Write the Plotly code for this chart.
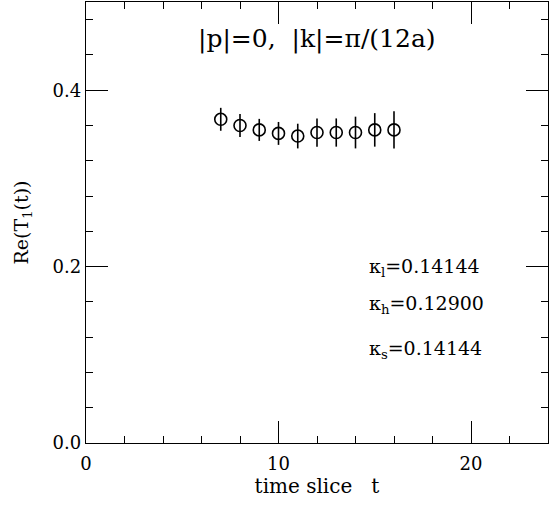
import plotly.graph_objects as go

t_slice = [7, 8, 9, 10, 11, 12, 13, 14, 15, 16]
re_T1 = [0.367, 0.360, 0.355, 0.351, 0.348, 0.352, 0.352, 0.352, 0.355, 0.355]
err = [0.013, 0.013, 0.0125, 0.013, 0.014, 0.016, 0.016, 0.018, 0.019, 0.021]

x_ticks = [0, 10, 20]
y_ticks = [0.0, 0.2, 0.4]
y_tick_labels = ["0.0", "0.2", "0.4"]

title_text = "|p|=0,\u00a0\u00a0|k|=π/(12a)"
kappa_texts = ["κ<sub>l</sub>=0.14144", "κ<sub>h</sub>=0.12900", "κ<sub>s</sub>=0.14144"]
kappa_y = [0.199, 0.157, 0.106]

FONT = "DejaVu Serif"

fig = go.Figure()
fig.add_trace(go.Scatter(
    x=t_slice, y=re_T1, mode="markers",
    marker=dict(symbol="circle-open", size=12, color="black", line=dict(width=1.6, color="black")),
    error_y=dict(type="data", array=err, visible=True, width=0, thickness=1.6, color="black"),
    showlegend=False,
))

fig.add_annotation(x=12.0, y=0.458, text=title_text, showarrow=False, xref="x", yref="y",
                   font=dict(family=FONT, size=25, color="black"))
for txt, yy in zip(kappa_texts, kappa_y):
    fig.add_annotation(x=14.6, y=yy, text=txt, showarrow=False, xanchor="left", xref="x", yref="y",
                       font=dict(family=FONT, size=19, color="black"))

fig.update_xaxes(range=[0, 24], tickvals=x_ticks, ticks="inside", ticklen=22, tickwidth=1.2,
                 tickcolor="black", showline=True, linecolor="black", linewidth=1.3, mirror="allticks",
                 showgrid=False, zeroline=False, ticklabelstandoff=4,
                 minor=dict(dtick=2, tick0=0, ticks="inside", ticklen=7, tickwidth=1.2, tickcolor="black", showgrid=False),
                 tickfont=dict(family=FONT, size=18, color="black"),
                 title=dict(text="time slice\u00a0\u00a0\u00a0t", font=dict(family=FONT, size=20, color="black"), standoff=6))
fig.update_yaxes(range=[0, 0.5], tickvals=y_ticks, ticktext=y_tick_labels, ticks="inside", ticklen=22,
                 tickwidth=1.2, tickcolor="black", showline=True, linecolor="black", linewidth=1.3,
                 mirror="allticks", showgrid=False, zeroline=False,
                 minor=dict(dtick=0.04, tick0=0, ticks="inside", ticklen=7, tickwidth=1.2, tickcolor="black", showgrid=False),
                 tickfont=dict(family=FONT, size=18, color="black"),
                 title=dict(text="Re(T<sub>1</sub>(t))", font=dict(family=FONT, size=19, color="black"), standoff=18))

fig.update_layout(width=550, height=508, margin=dict(l=86, r=2, t=2, b=65),
                  plot_bgcolor="white", paper_bgcolor="white")
fig.write_html("out.html", config={"displayModeBar": False},
               post_script="document.body.style.margin='0px';document.body.style.overflow='hidden';")
